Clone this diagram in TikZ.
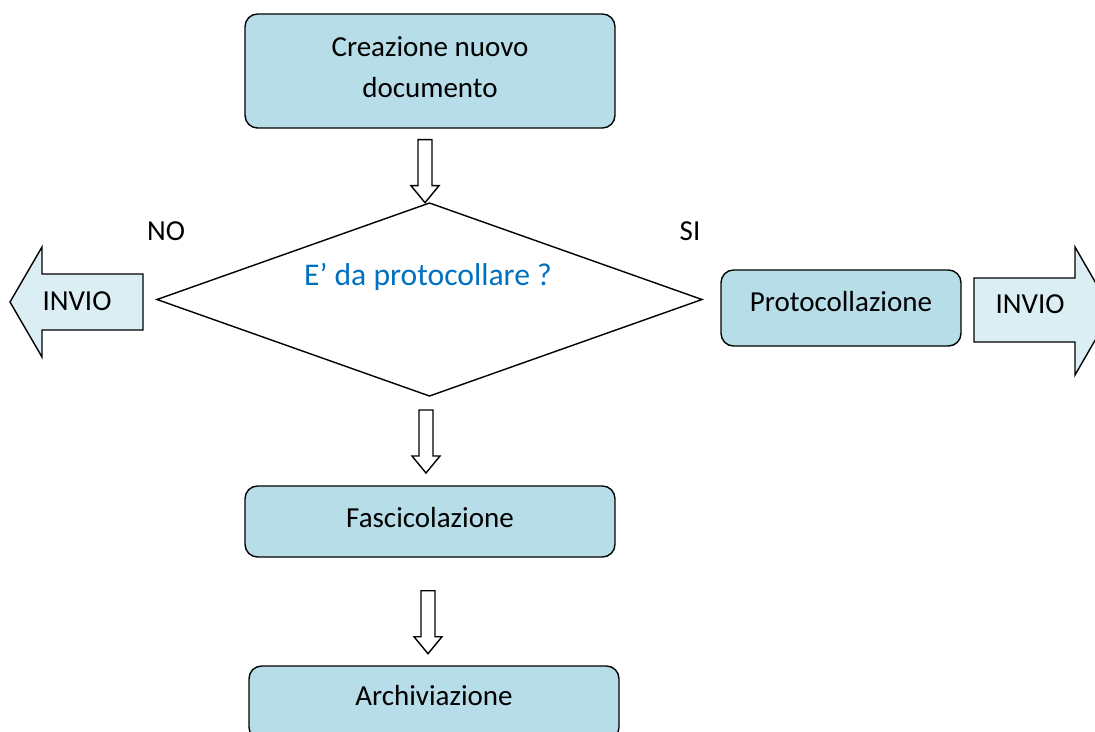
\documentclass[tikz,border=0pt]{standalone}
\usepackage{fontspec}
\setmainfont{Carlito}
\usetikzlibrary{calc}

\begin{document}
\begin{tikzpicture}[x=0.02cm, y=-0.02cm,
    stepbox/.style={draw, line width=0.8pt, fill=boxblue, rounded corners=0.25cm,
        align=center, inner sep=0pt, font=\fontsize{16.5}{22.8}\selectfont},
    blockline/.style={draw, line width=0.8pt, fill=white},
    sendline/.style={draw, line width=0.8pt, fill=sendblue},
    plain/.style={inner sep=0pt, font=\fontsize{16.5}{20}\selectfont},
    downarrow/.pic={
        \draw[blockline] (-7,0) -- (7,0) -- (7,46) -- (14,46) -- (0,63)
            -- (-14,46) -- (-7,46) -- cycle;
    }]
    % Define colors
    \definecolor{boxblue}{RGB}{183, 221, 232}
    \definecolor{sendblue}{RGB}{218, 238, 243}
    \definecolor{askblue}{RGB}{0, 112, 192}

    \useasboundingbox (0,0) rectangle (1095,731);
    \clip (0,0) rectangle (1095,731);

    % Draw process boxes
    \node[stepbox, minimum width=7.4cm, minimum height=2.28cm, text depth=0.16cm]
        (create) at (430,71) {Creazione nuovo\\documento};
    \node[stepbox, minimum width=4.8cm, minimum height=1.52cm, text depth=0.28cm]
        (prot) at (841,308) {Protocollazione};
    \node[stepbox, minimum width=7.4cm, minimum height=1.42cm, text depth=0.17cm]
        (fasc) at (430,521.5) {Fascicolazione};
    \node[stepbox, minimum width=7.4cm, minimum height=1.48cm, text depth=0.3cm]
        (arch) at (434,703) {Archiviazione};

    % Draw decision
    \coordinate (dia) at (429.5,299.5);
    \draw[line width=0.8pt] (157,299.5) coordinate (dia-w) -- (429.5,203) coordinate (dia-n)
        -- (702,299.5) coordinate (dia-e) -- (429.5,396) coordinate (dia-s) -- cycle;
    \node[plain, text=askblue, font=\fontsize{18}{20}\selectfont] (ask) at (428,277)
        {E’ da protocollare ?};
    \node[plain] (no) at (166,231) {NO};
    \node[plain] (si) at (690,231) {SI};

    % Draw down arrows
    \pic at ($(create.south)+(-5,11)$) {downarrow};
    \pic at ($(dia-s)+(-3.5,14)$) {downarrow};
    \pic at ($(fasc.south)+(-2,33)$) {downarrow};

    % Draw send arrows
    \draw[sendline] (143,274) -- (42,274) -- (42,247) -- (10,302) -- (42,357)
        -- (42,330) -- (143,330) -- cycle;
    \node[plain] (sendno) at (77,301) {INVIO};
    \draw[sendline] (974,278) -- (1075,278) -- (1075,247) -- (1112,311) -- (1075,375)
        -- (1075,342) -- (974,342) -- cycle;
    \node[plain] (sendsi) at (1030,304) {INVIO};
\end{tikzpicture}
\end{document}
